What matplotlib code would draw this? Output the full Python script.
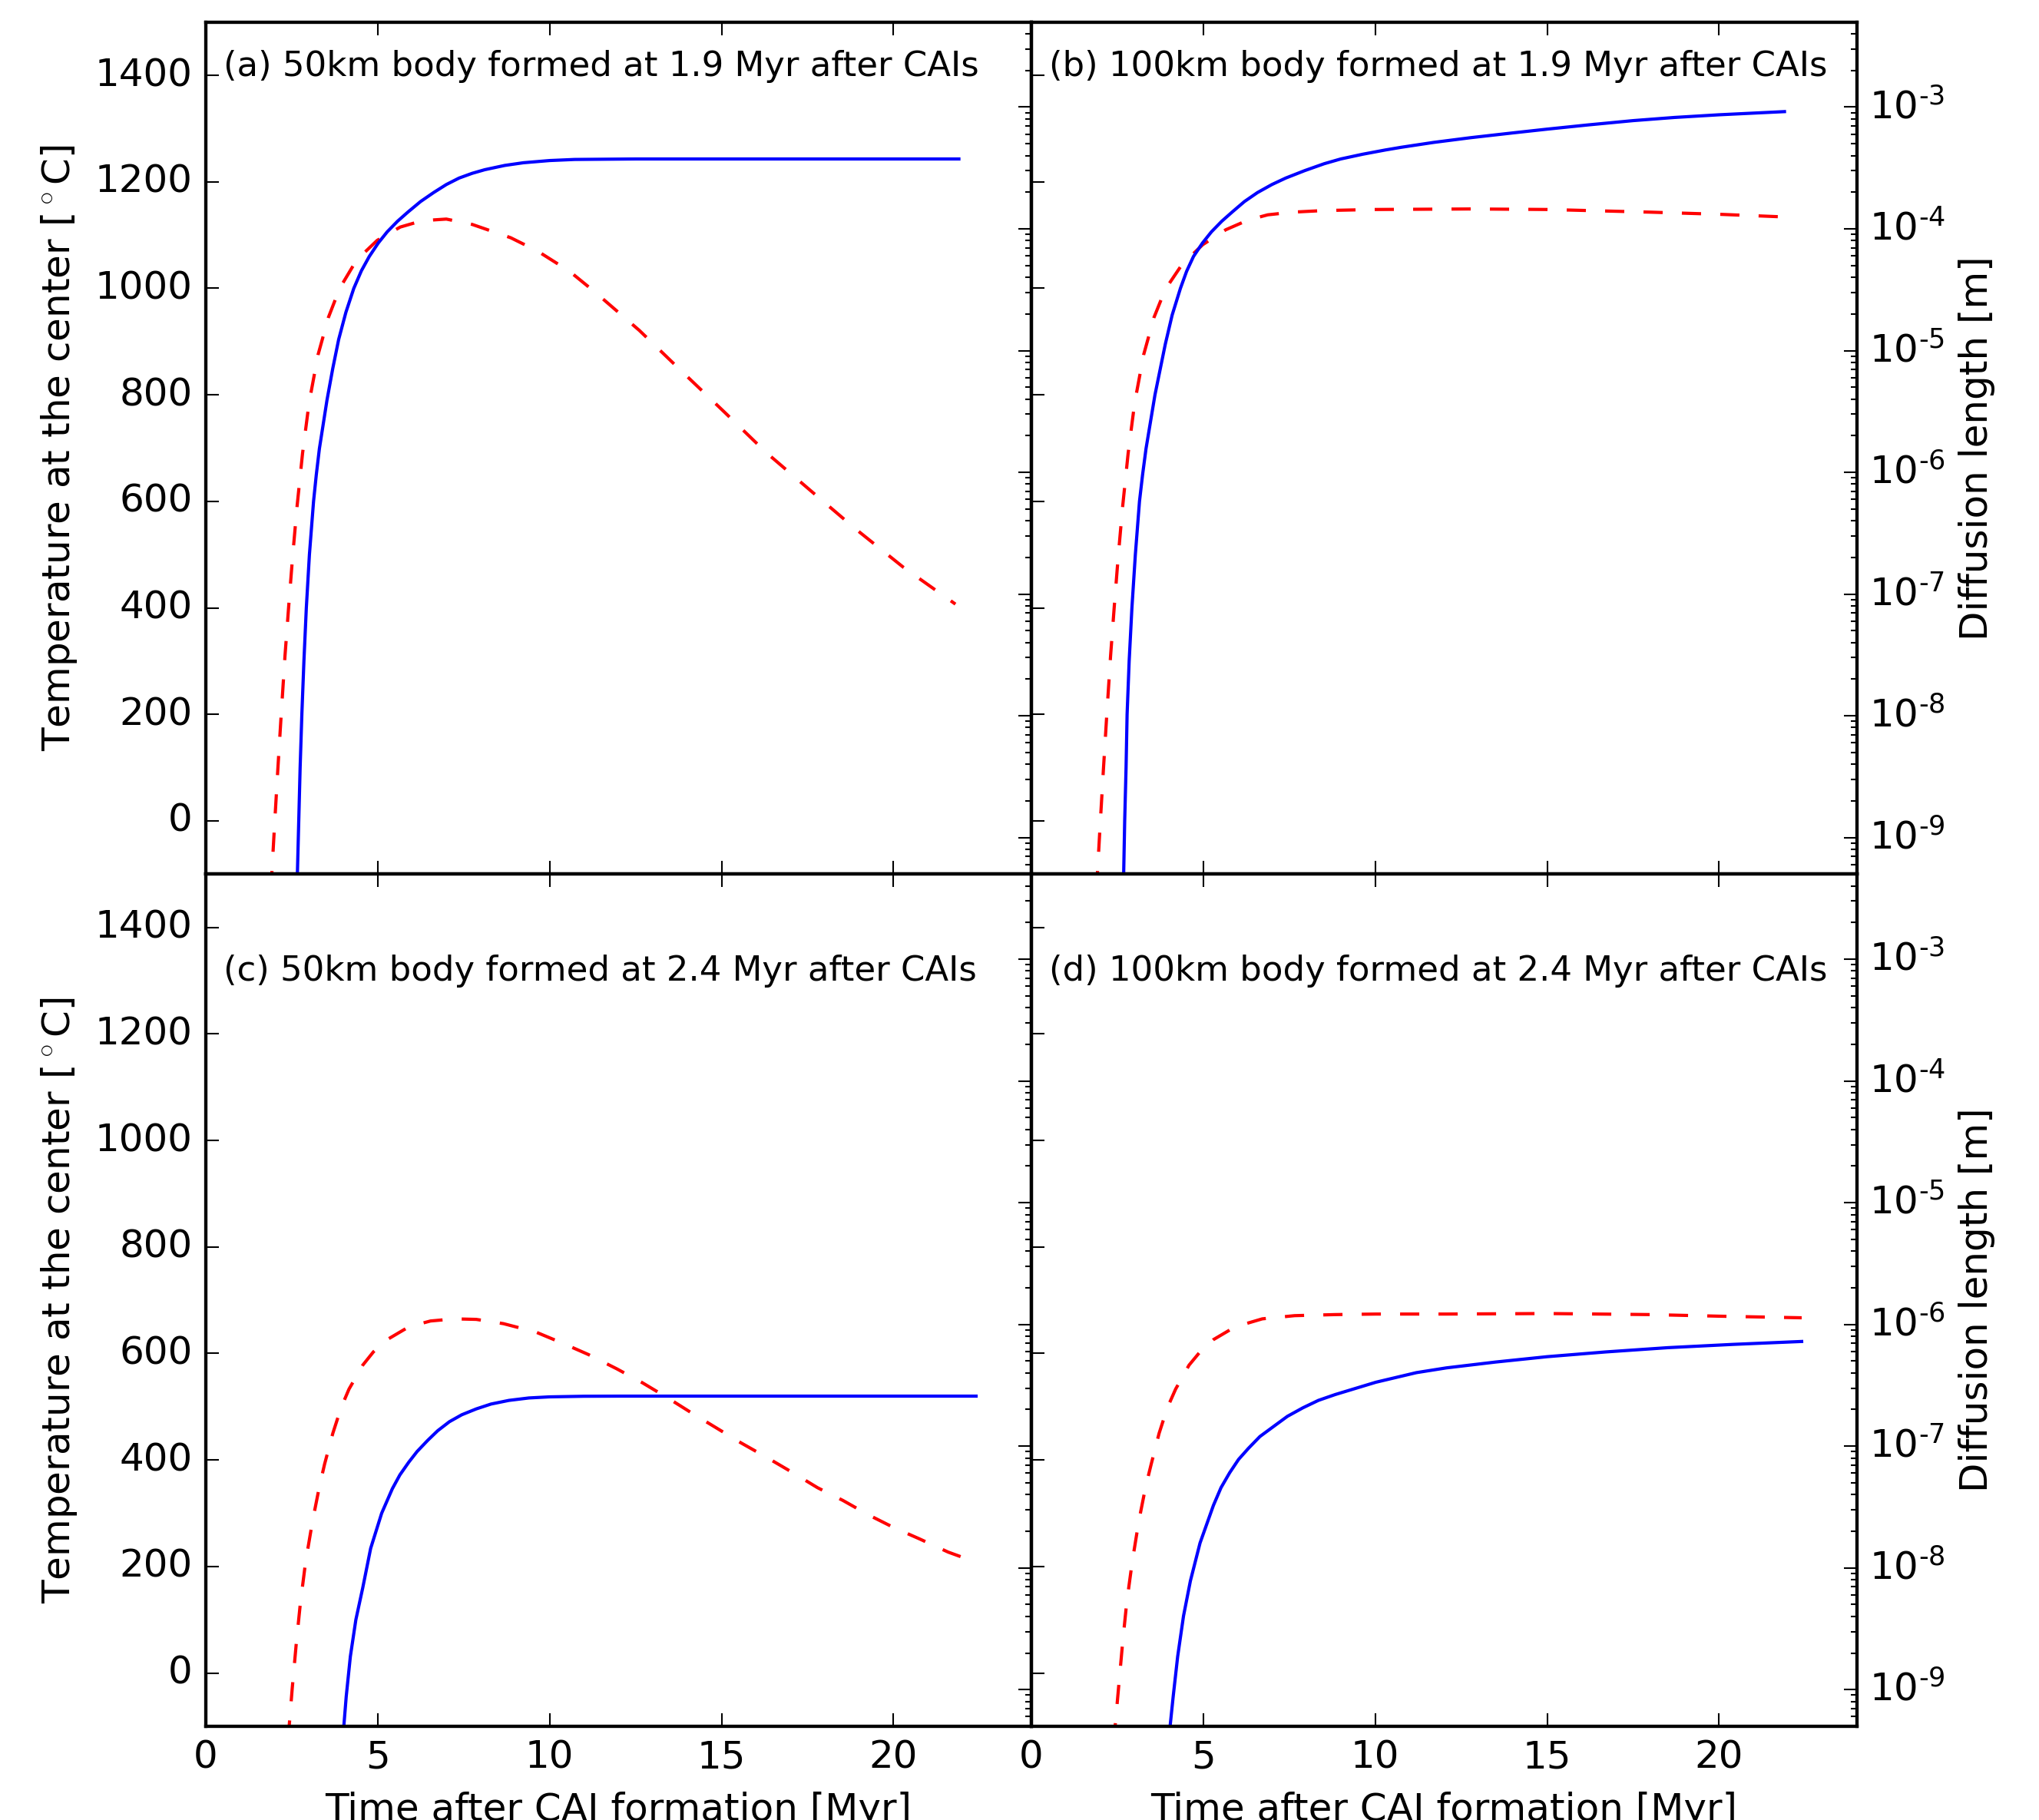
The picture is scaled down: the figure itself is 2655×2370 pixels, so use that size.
import matplotlib
matplotlib.use('Agg')
import math
import matplotlib.pyplot as plt
from matplotlib.ticker import (LogLocator, NullFormatter, FuncFormatter,
                               FixedLocator)

plt.style.use('classic')
plt.rcParams['font.family'] = ['DejaVu Sans']
plt.rcParams['mathtext.fontset'] = 'cm'

# ---------------- data ----------------
x_ticks = [0, 5, 10, 15, 20]
T_ticks = [0, 200, 400, 600, 800, 1000, 1200, 1400]
D_ticks = [1e-9, 1e-8, 1e-7, 1e-6, 1e-5, 1e-4, 1e-3]

titles = [
    "(a) 50km body formed at 1.9 Myr after CAIs",
    "(b) 100km body formed at 1.9 Myr after CAIs",
    "(c) 50km body formed at 2.4 Myr after CAIs",
    "(d) 100km body formed at 2.4 Myr after CAIs",
]

# Panel (a): centre temperature [deg C] (red dashed)
a_tT = [1.90, 2.00, 2.10, 2.20, 2.31, 2.42, 2.53, 2.66, 2.82, 3.01, 3.27, 3.57,
        3.90, 4.39, 4.99, 5.66, 6.30, 7.00, 7.75, 8.87, 9.65, 10.58, 11.32,
        12.61, 13.91, 15.11, 16.31, 17.61, 18.90, 20.29, 21.80]
a_T = [-130, -15, 95, 200, 310, 405, 495, 590, 690, 785, 875, 945,
       1000, 1053, 1090, 1115, 1127, 1130, 1120, 1095, 1070, 1032, 993,
       921, 840, 766, 691, 619, 548, 476, 407]
# Panel (a): diffusion length, log10 of metres (blue solid)
a_tD = [2.62, 2.67, 2.71, 2.75, 2.80, 2.86, 2.93, 3.02, 3.14, 3.22, 3.31, 3.53,
        3.70, 3.87, 4.08, 4.31, 4.53, 4.76, 5.02, 5.28, 5.58, 5.88, 6.25, 6.63,
        7.00, 7.37, 7.75, 8.12, 8.70, 9.24, 10.00, 10.73, 12.50, 21.90]
a_logD = [-9.70, -9.301, -8.864, -8.426, -7.989, -7.551, -7.114, -6.676, -6.239,
          -6.020, -5.806, -5.408, -5.145, -4.909, -4.686, -4.489, -4.345, -4.227,
          -4.117, -4.025, -3.938, -3.863, -3.776, -3.702, -3.636, -3.583, -3.544,
          -3.514, -3.479, -3.457, -3.439, -3.430, -3.426, -3.426]

# Panel (b)
b_tT = [1.90, 2.00, 2.10, 2.20, 2.31, 2.42, 2.53, 2.66, 2.82, 3.01, 3.27, 3.57,
        3.90, 4.39, 4.99, 5.66, 6.30, 6.88, 7.60, 8.50, 10.00, 12.80, 15.00,
        18.00, 20.00, 21.90]
b_T = [-130, -15, 95, 200, 310, 405, 495, 590, 690, 785, 875, 945,
       998, 1045, 1082, 1110, 1128, 1138, 1143, 1146, 1148, 1149, 1148,
       1143, 1139, 1134]
b_tD = [2.62, 2.69, 2.72, 2.76, 2.79, 2.85, 2.93, 3.03, 3.15, 3.24, 3.34, 3.60,
        3.90, 4.10, 4.34, 4.52, 4.72, 4.98, 5.24, 5.54, 5.84, 6.20, 6.58, 7.00,
        7.40, 7.95, 8.52, 9.00, 9.64, 10.30, 10.76, 11.70, 12.78, 14.00, 15.00,
        16.20, 17.50, 18.70, 20.00, 21.90]
b_logD = [-9.70, -9.301, -8.864, -8.426, -7.989, -7.551, -7.114, -6.676, -6.239,
          -6.020, -5.806, -5.364, -4.948, -4.708, -4.489, -4.349, -4.227, -4.117,
          -4.025, -3.938, -3.863, -3.776, -3.702, -3.636, -3.583, -3.522, -3.465,
          -3.426, -3.387, -3.352, -3.330, -3.290, -3.251, -3.212, -3.181, -3.146,
          -3.111, -3.085, -3.063, -3.037]

# Panel (c)
c_tT = [2.40, 2.52, 2.64, 2.76, 2.91, 3.11, 3.31, 3.46, 3.70, 3.94, 4.17, 4.57,
        4.88, 5.28, 5.91, 6.54, 7.24, 7.87, 8.66, 9.61, 10.39, 11.13, 11.96,
        12.70, 13.45, 14.09, 14.83, 15.57, 16.31, 17.05, 17.79, 18.53, 19.27,
        20.01, 20.75, 21.59, 22.40]
c_T = [-125, -29, 57, 133, 209, 285, 350, 392, 450, 498, 533, 578,
       603, 626, 650, 661, 665, 664, 656, 640, 619, 598, 571,
       545, 516, 490, 461, 432, 405, 377, 348, 324, 297,
       273, 252, 227, 208]
c_tD = [3.95, 4.02, 4.09, 4.21, 4.37, 4.57, 4.80, 5.12, 5.43, 5.65, 5.91, 6.15,
        6.46, 6.75, 7.09, 7.45, 7.87, 8.30, 8.82, 9.40, 10.00, 11.00, 12.05,
        15.00, 18.00, 22.40]
c_logD = [-9.70, -9.301, -9.056, -8.728, -8.426, -8.164, -7.840, -7.551, -7.350,
          -7.236, -7.131, -7.044, -6.952, -6.873, -6.799, -6.742, -6.694, -6.654,
          -6.624, -6.604, -6.595, -6.590, -6.589, -6.589, -6.589, -6.589]

# Panel (d)
d_tT = [2.40, 2.54, 2.66, 2.78, 2.94, 3.13, 3.33, 3.49, 3.72, 3.96, 4.20, 4.59,
        4.91, 5.30, 5.93, 6.72, 7.66, 8.84, 10.02, 12.07, 15.00, 18.00, 20.00,
        22.40]
d_T = [-130, -29, 57, 133, 209, 285, 350, 392, 450, 498, 533, 578,
       603, 626, 650, 665, 671, 673, 674, 674, 675, 673, 670, 667]
d_tD = [3.97, 4.04, 4.13, 4.26, 4.43, 4.63, 4.91, 5.30, 5.52, 5.77, 6.03, 6.32,
        6.65, 7.03, 7.45, 7.90, 8.35, 8.84, 10.02, 11.20, 12.07, 13.50, 15.00,
        16.70, 18.50, 20.40, 22.40]
d_logD = [-9.70, -9.301, -9.056, -8.728, -8.395, -8.107, -7.796, -7.486, -7.341,
          -7.219, -7.109, -7.017, -6.921, -6.842, -6.755, -6.685, -6.624, -6.576,
          -6.475, -6.396, -6.357, -6.309, -6.265, -6.226, -6.191, -6.164, -6.140]

panel_T = [(a_tT, a_T), (b_tT, b_T), (c_tT, c_T), (d_tT, d_T)]
panel_D = [(a_tD, a_logD), (b_tD, b_logD), (c_tD, c_logD), (d_tD, d_logD)]
title_y = [0.948, 0.948, 0.886, 0.886]

HYPHEN = '\u2010'


def log_label(v, pos):
    if v <= 0:
        return ''
    e = int(round(math.log10(v)))
    if e < 0:
        return '$\\mathdefault{10^{' + HYPHEN + str(-e) + '}}$'
    return '$\\mathdefault{10^{' + str(e) + '}}$'


# ---------------- figure ----------------
fig, axes = plt.subplots(2, 2, figsize=(8.85, 7.9), dpi=300)
fig.patch.set_facecolor('white')
fig.subplots_adjust(left=0.1008, right=0.9106, bottom=0.0515, top=0.9879,
                    wspace=0, hspace=0)

for i, ax in enumerate(axes.flat):
    row, col = divmod(i, 2)
    ax2 = ax.twinx()
    tT, T = panel_T[i]
    tD, logD = panel_D[i]
    D = [10.0 ** v for v in logD]
    ax.plot(tT, T, color='r', linestyle='--', linewidth=1.0)
    ax2.plot(tD, D, color='b', linestyle='-', linewidth=1.0,
             solid_joinstyle='round')

    ax.set_xlim(0, 24)
    ax.set_ylim(-100, 1500)
    ax.set_xticks(x_ticks)
    ax.set_yticks(T_ticks)
    ax2.set_yscale('log')
    ax2.set_ylim(5e-10, 5e-3)
    ax2.yaxis.set_major_locator(FixedLocator(D_ticks))
    ax2.yaxis.set_minor_locator(LogLocator(base=10, subs=range(2, 10), numticks=20))
    ax2.yaxis.set_major_formatter(FuncFormatter(log_label))
    ax2.yaxis.set_minor_formatter(NullFormatter())

    for a in (ax, ax2):
        a.tick_params(labelsize=12)

    if col == 0:
        ax.set_ylabel(r'Temperature at the center [$^\circ$C]', fontsize=12)
        ax2.tick_params(axis='y', which='both', labelright=False)
    else:
        ax.tick_params(axis='y', labelleft=False)
        ax2.set_ylabel('Diffusion length [m]', fontsize=12, labelpad=4)
    if row == 0:
        ax.tick_params(axis='x', labelbottom=False)
    else:
        ax.set_xlabel('Time after CAI formation [Myr]', fontsize=12)

    ax.text(0.022, title_y[i], titles[i], transform=ax.transAxes,
            fontsize=10.8, va='center', ha='left')

fig.savefig('out.png', dpi=300, facecolor='white')
